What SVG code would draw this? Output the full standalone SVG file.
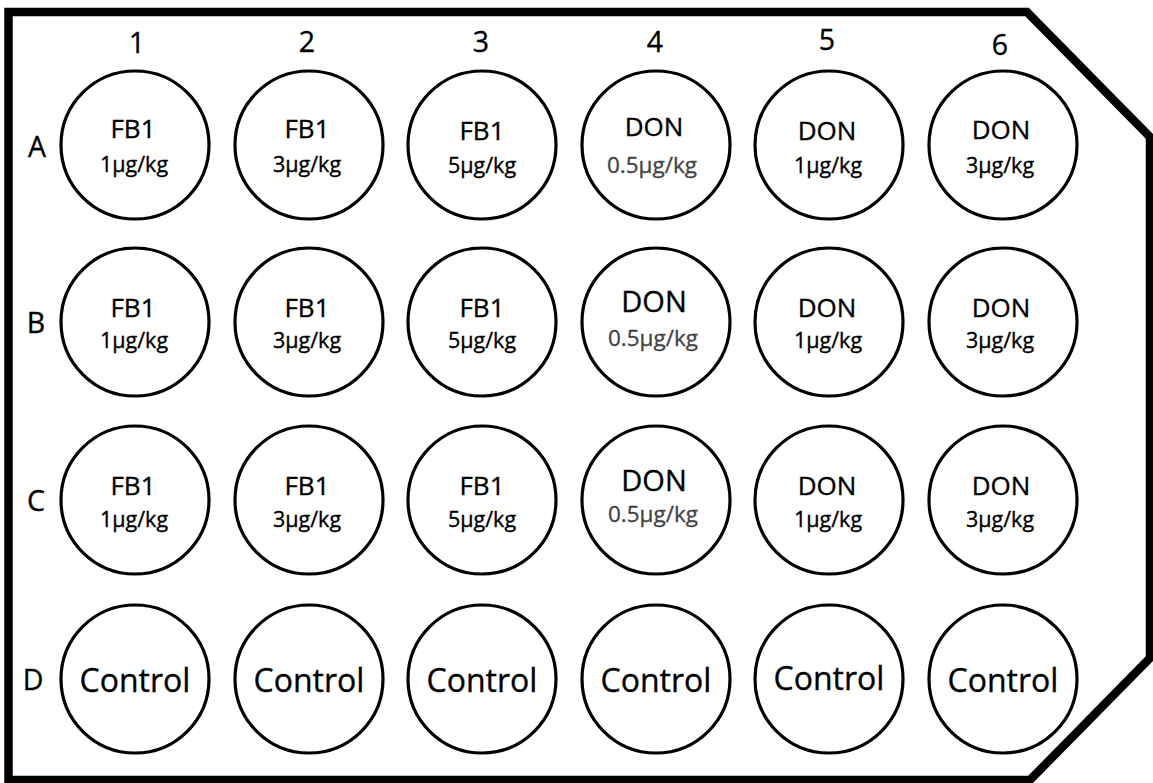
<svg xmlns="http://www.w3.org/2000/svg" width="1153" height="783" viewBox="0 0 1153 783">
<style>
.plate{fill:#fff;stroke:#000;stroke-width:8.5;stroke-linejoin:miter}
.well{fill:#fff;stroke:#000;stroke-width:3.2}
text{font-family:"Open Sans","Noto Sans",sans-serif;fill:#000;stroke:#000;stroke-width:0.35;text-anchor:middle}
.lbl{font-size:28.5px}
.agent{font-size:26px}
.don{font-size:26px}
.donb{font-size:29px}
.dose{font-size:21.5px}
.dose5{font-size:22.5px;fill:#444;stroke:#444}
.ctrl{font-size:32px}
</style>
<rect width="1153" height="783" fill="#fff"/>
<polygon class="plate" points="8.5,12 1027,12 1150,137 1150,658 1030,780 8.5,780"/>
<g id="col-labels">
<text class="lbl" x="137" y="53">1</text>
<text class="lbl" x="307" y="52">2</text>
<text class="lbl" x="481" y="52">3</text>
<text class="lbl" x="655" y="52">4</text>
<text class="lbl" x="827" y="50">5</text>
<text class="lbl" x="1000" y="55">6</text>
</g>
<g id="row-labels">
<text class="lbl" x="37" y="157">A</text>
<text class="lbl" x="36" y="333">B</text>
<text class="lbl" x="36" y="511">C</text>
<text class="lbl" x="33" y="690">D</text>
</g>
<g id="connectors"></g>
<g id="A1"><circle class="well" cx="135" cy="145" r="74"/><text class="agent" x="133" y="138">FB1</text><text class="dose" x="134" y="172">1μg/kg</text></g>
<g id="A2"><circle class="well" cx="309" cy="145" r="74"/><text class="agent" x="307" y="138">FB1</text><text class="dose" x="307" y="172">3μg/kg</text></g>
<g id="A3"><circle class="well" cx="482" cy="145" r="74"/><text class="agent" x="482" y="140">FB1</text><text class="dose" x="482" y="173">5μg/kg</text></g>
<g id="A4"><circle class="well" cx="656" cy="145" r="74"/><text class="don" x="654" y="136">DON</text><text class="dose5" x="652" y="173">0.5μg/kg</text></g>
<g id="A5"><circle class="well" cx="829" cy="145" r="74"/><text class="don" x="827" y="140">DON</text><text class="dose" x="828" y="173">1μg/kg</text></g>
<g id="A6"><circle class="well" cx="1003" cy="145" r="74"/><text class="don" x="1001" y="139">DON</text><text class="dose" x="1000" y="173">3μg/kg</text></g>
<g id="B1"><circle class="well" cx="135" cy="322" r="74"/><text class="agent" x="133" y="317">FB1</text><text class="dose" x="134" y="348">1μg/kg</text></g>
<g id="B2"><circle class="well" cx="309" cy="322" r="74"/><text class="agent" x="307" y="317">FB1</text><text class="dose" x="307" y="348">3μg/kg</text></g>
<g id="B3"><circle class="well" cx="482" cy="322" r="74"/><text class="agent" x="482" y="317">FB1</text><text class="dose" x="482" y="348">5μg/kg</text></g>
<g id="B4"><circle class="well" cx="656" cy="322" r="74"/><text class="donb" x="654" y="312">DON</text><text class="dose5" x="653" y="346">0.5μg/kg</text></g>
<g id="B5"><circle class="well" cx="829" cy="322" r="74"/><text class="don" x="827" y="317">DON</text><text class="dose" x="828" y="348">1μg/kg</text></g>
<g id="B6"><circle class="well" cx="1003" cy="322" r="74"/><text class="don" x="1001" y="317">DON</text><text class="dose" x="1000" y="348">3μg/kg</text></g>
<g id="C1"><circle class="well" cx="135" cy="500" r="74"/><text class="agent" x="133" y="495">FB1</text><text class="dose" x="134" y="527">1μg/kg</text></g>
<g id="C2"><circle class="well" cx="309" cy="500" r="74"/><text class="agent" x="307" y="495">FB1</text><text class="dose" x="307" y="527">3μg/kg</text></g>
<g id="C3"><circle class="well" cx="482" cy="500" r="74"/><text class="agent" x="482" y="495">FB1</text><text class="dose" x="482" y="527">5μg/kg</text></g>
<g id="C4"><circle class="well" cx="656" cy="500" r="74"/><text class="donb" x="654" y="491">DON</text><text class="dose5" x="653" y="522">0.5μg/kg</text></g>
<g id="C5"><circle class="well" cx="829" cy="500" r="74"/><text class="don" x="827" y="495">DON</text><text class="dose" x="828" y="527">1μg/kg</text></g>
<g id="C6"><circle class="well" cx="1003" cy="500" r="74"/><text class="don" x="1001" y="495">DON</text><text class="dose" x="1000" y="527">3μg/kg</text></g>
<g id="D1"><circle class="well" cx="135" cy="679" r="74"/><text class="ctrl" x="135" y="692">Control</text></g>
<g id="D2"><circle class="well" cx="309" cy="679" r="74"/><text class="ctrl" x="309" y="692">Control</text></g>
<g id="D3"><circle class="well" cx="482" cy="679" r="74"/><text class="ctrl" x="482" y="692">Control</text></g>
<g id="D4"><circle class="well" cx="656" cy="679" r="74"/><text class="ctrl" x="656" y="692">Control</text></g>
<g id="D5"><circle class="well" cx="829" cy="679" r="74"/><text class="ctrl" x="829" y="690">Control</text></g>
<g id="D6"><circle class="well" cx="1003" cy="679" r="74"/><text class="ctrl" x="1003" y="692">Control</text></g>
</svg>
